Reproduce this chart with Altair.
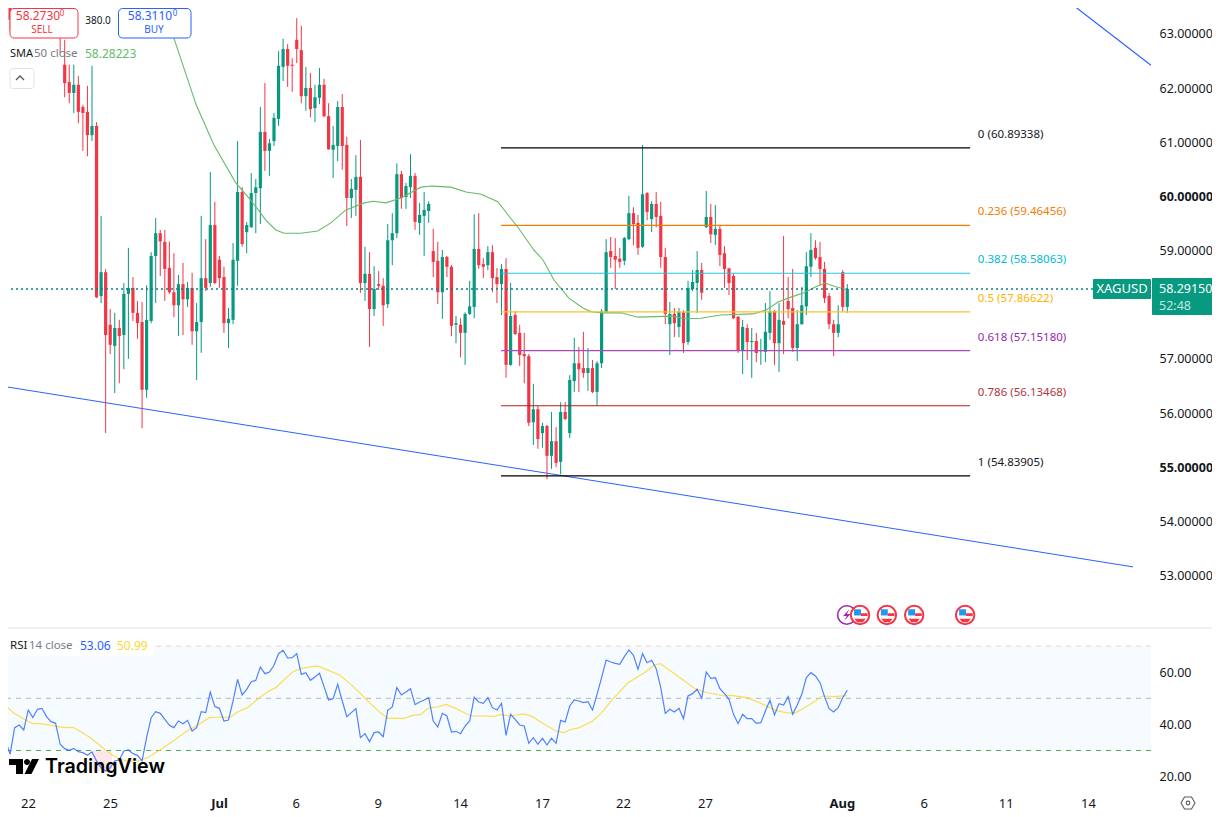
import altair as alt
import pandas as pd

FONT = "Noto Sans"
UP, DOWN = "#089981", "#F23645"

# --- candles (bar index 0..184) ---
direction = ("rgrgrrgrrgrr" "rrgrrrgrgr" "rgrggrrrgg" "grrrrgrgrg" "grgrrrgggr" "ggggrggggr"
             "rrrgrggrrg" "grrggrgrgr" "rgggrggrgg" "grrgrrgrgg" "grrgrrgrgr" "rrrgrgrgrg"
             "rggrrgrggg" "rrrggrrgrg" "rrrgrgrggg" "rgrgrrrrrg" "rgrgggrgrr" "rggggrrrrr" "grg")
highs = [63.72,63.70,63.44,63.40,63.40,63.35,63.30,63.35,63.30,63.30,63.25,63.10,
62.89,62.43,62.43,62.22,61.69,62.04,62.41,61.37,59.64,58.66,
57.92,57.85,57.72,58.40,59.05,58.51,58.07,58.05,58.36,58.97,
59.60,59.38,59.38,59.17,58.95,58.55,58.77,58.42,58.59,58.03,
59.64,59.21,60.45,59.90,58.90,58.70,57.94,59.14,61.02,60.17,
59.53,60.43,60.32,61.65,62.09,61.06,61.54,62.68,62.91,62.81,
62.55,63.29,63.15,62.39,62.28,62.06,62.37,62.17,61.72,61.30,
61.76,61.89,61.10,60.32,60.76,61.04,59.07,58.97,58.71,58.62,
58.49,59.49,59.69,60.61,60.47,60.25,60.78,60.43,59.88,60.08,
59.91,59.40,59.16,59.01,58.90,58.73,57.79,57.75,57.86,58.44,
59.67,59.69,58.86,59.08,59.10,58.68,58.75,58.86,58.40,57.88,
57.63,57.48,57.09,56.54,56.13,55.82,55.78,56.02,55.74,56.20,
56.20,56.70,57.39,57.22,57.50,57.20,56.98,56.96,57.92,59.21,
59.25,59.23,59.05,59.25,60.01,59.80,59.66,60.95,60.08,59.91,
60.08,59.90,59.05,58.05,57.94,57.94,57.90,58.44,58.64,58.99,
58.77,60.10,59.86,59.84,59.45,59.08,58.68,58.57,57.79,57.72,
57.64,57.57,57.48,57.37,58.03,58.25,57.90,58.03,59.27,58.51,
58.66,57.90,58.33,58.97,59.32,59.19,59.16,58.79,58.22,57.72,
57.99,58.64,58.38]
tops = [63.59,63.53,63.35,63.33,63.30,63.25,63.20,63.25,63.18,63.20,63.15,63.07,
62.43,62.11,62.06,62.06,61.65,61.56,61.30,61.30,58.60,58.60,
57.63,57.57,57.57,58.20,58.31,58.31,57.85,57.68,57.72,58.90,
59.32,59.32,59.16,58.68,58.23,58.38,58.38,58.31,58.31,57.68,
58.49,58.49,59.47,59.47,58.83,58.51,57.74,58.83,60.08,60.08,
59.47,60.06,60.17,61.19,61.19,60.98,61.45,62.41,62.72,62.72,
62.43,62.89,62.70,62.00,62.00,61.83,62.06,62.06,61.48,60.95,
61.65,61.65,60.95,60.14,60.36,60.36,58.57,58.57,58.29,58.38,
58.35,59.19,59.32,60.41,60.41,60.19,60.38,60.38,59.66,59.75,
59.86,58.99,58.81,58.88,58.88,58.70,57.66,57.63,57.83,57.97,
59.03,59.03,58.75,58.97,58.97,58.51,58.66,58.66,57.79,57.81,
57.48,57.09,57.05,56.07,56.07,55.76,55.76,55.48,55.48,56.02,
56.02,56.61,56.92,56.92,56.83,56.83,56.83,56.92,57.88,58.97,
58.99,58.90,58.85,59.23,59.69,59.69,59.51,60.04,60.06,59.86,
59.86,59.64,58.88,57.83,57.83,57.86,57.86,58.31,58.42,58.64,
58.64,59.62,59.62,59.40,59.40,58.95,58.67,58.53,57.78,57.59,
57.57,57.33,57.33,57.16,57.50,57.88,57.88,57.72,57.70,58.07,
57.94,57.64,57.99,58.71,59.01,59.05,58.88,58.66,58.16,57.64,
57.64,58.60,58.29]
bottoms = [63.26,63.16,63.16,63.18,63.18,63.10,63.08,63.12,63.08,63.05,63.02,62.96,
62.09,61.91,61.91,61.56,61.54,61.13,61.13,58.14,58.16,57.44,
57.26,57.24,57.42,57.44,58.20,57.85,57.66,56.43,56.43,57.70,
58.90,59.17,58.66,58.23,57.99,57.99,58.10,58.10,57.51,57.51,
57.68,58.31,58.40,58.40,58.49,57.66,57.66,57.72,58.81,59.12,
59.34,59.43,60.06,60.15,60.84,60.84,61.02,61.43,62.39,62.41,
62.41,62.72,61.85,61.85,61.61,61.63,61.82,61.48,60.87,60.86,
60.93,60.93,59.97,59.97,60.12,58.40,58.40,57.92,57.92,58.35,
57.99,58.01,59.19,59.32,59.97,59.99,60.17,59.53,59.51,59.64,
59.73,58.79,58.23,58.23,58.70,57.61,57.63,57.48,57.48,57.83,
57.96,58.73,58.70,58.73,58.49,58.38,58.38,56.89,56.89,57.46,
57.07,57.05,55.82,55.83,55.52,55.63,55.21,55.21,55.08,55.10,
55.89,55.63,56.59,56.81,56.74,56.74,56.39,56.39,56.92,57.86,
58.88,58.83,58.79,58.81,59.21,59.49,59.05,59.07,59.71,59.58,
59.62,58.88,57.83,57.64,57.66,57.59,57.29,57.31,58.29,58.40,
58.22,59.43,59.30,59.29,58.92,58.66,58.40,57.75,57.16,57.16,
57.31,57.31,57.11,57.14,57.13,57.48,57.29,57.29,57.63,57.92,
57.20,57.20,57.64,57.97,58.70,58.86,58.66,58.12,57.64,57.48,
57.48,57.96,57.96]
lows = [63.07,63.07,63.03,63.03,63.05,63.02,63.00,63.00,62.98,62.95,62.93,62.65,
61.83,61.72,61.54,61.35,60.84,60.74,61.02,58.12,58.03,55.63,
57.09,56.37,56.55,56.81,57.00,57.70,57.37,55.72,56.28,57.66,
58.03,58.53,58.07,58.20,57.77,57.42,57.44,57.96,57.26,56.61,
57.11,58.25,58.33,58.38,58.31,57.48,57.20,57.64,58.35,59.07,
58.95,59.42,59.32,59.49,60.47,60.38,60.93,61.30,62.13,62.02,
61.93,62.46,61.72,61.58,61.46,61.37,61.70,61.46,60.86,60.34,
60.65,60.49,59.45,59.60,59.64,58.22,58.07,57.22,57.79,58.27,
57.61,57.94,58.73,59.23,59.77,59.77,59.97,59.38,59.29,58.90,
59.51,58.51,58.01,57.74,58.51,57.42,57.29,57.03,56.89,57.81,
57.75,58.66,58.49,58.64,58.23,58.03,57.81,56.65,56.87,57.44,
56.87,56.55,55.76,55.41,55.34,55.36,54.78,54.97,55.00,54.87,
55.87,55.54,56.39,56.39,56.65,56.41,56.37,56.13,56.83,57.85,
58.68,58.29,58.68,58.73,59.19,59.10,58.92,59.05,59.56,59.34,
59.43,58.68,57.64,57.07,57.40,57.40,57.11,57.26,58.25,57.85,
58.09,59.42,59.14,59.10,58.71,58.31,58.18,57.74,57.11,56.72,
56.98,56.65,56.94,56.89,56.94,57.35,56.89,56.76,57.09,57.75,
57.13,56.96,57.63,57.81,58.51,58.83,58.36,58.03,57.55,57.05,
57.40,57.88,57.85]

# --- SMA 50 (bar index, price) ---
sma_idx = [33.2,36.0,40.9,44.8,49.6,52.9,56.2,58.4,60.2,63.9,67.6,70.5,73.8,77.8,79.8,82.6,85.9,90.3,92.7,96.9,
           100.2,103.5,107.2,109.4,111.6,115.1,117.1,119.5,122.8,125.9,127.7,129.9,134.3,138.0,145.3,148.6,151.8,
           156.2,163.3,166.1,168.8,171.6,174.5,177.1,179.1,181.5,183.9]
sma_val = [63.63,62.92,61.69,60.95,60.25,59.93,59.56,59.38,59.32,59.32,59.36,59.51,59.75,59.88,59.91,59.88,59.97,60.17,60.19,60.17,
           60.08,60.04,59.90,59.66,59.43,59.01,58.83,58.46,58.12,57.94,57.87,57.85,57.85,57.77,57.79,57.74,57.75,
           57.81,57.83,57.90,58.05,58.14,58.22,58.33,58.40,58.33,58.28]

# --- RSI (bar index -2..184) ---
rsi_first = -2
rsi = [35.56,33.64,28.5,38.75,39.77,37.86,45.52,42.58,45.78,46.16,42.97,41.05,40.41,32.37,30.71,30.07,30.83,29.56,29.17,28.15,29.43,
       26.0,23.4,22.15,23.4,26.0,26.4,29.8,30.2,28.8,28.15,25.98,34.92,42.58,44.88,44.24,41.94,39.65,38.75,41.3,40.28,41.56,37.47,
       38.75,44.88,44.5,52.4,46.8,46.16,41.3,41.69,48.97,57.27,51.27,53.44,56.37,56.88,62.0,59.44,60.08,62.63,67.1,68.38,65.44,65.57,
       67.1,59.18,59.82,56.88,58.16,59.57,54.46,49.35,49.86,55.35,48.97,42.97,44.5,46.03,34.92,36.45,33.39,36.84,37.09,35.3,45.39,
       46.67,54.08,51.27,52.4,53.69,47.56,48.58,49.35,50.24,41.3,39.01,44.24,43.22,37.09,37.35,36.45,39.39,41.3,50.37,48.58,48.07,
       50.24,46.41,45.52,48.07,35.81,43.86,41.94,39.77,39.39,32.75,34.92,32.37,34.67,32.11,34.67,32.75,41.56,40.92,47.05,49.35,48.97,
       48.33,48.71,45.52,51.52,57.91,64.67,63.91,63.4,63.01,65.95,68.51,66.46,61.1,67.1,63.65,64.55,61.35,54.08,44.24,45.78,44.75,
       46.16,42.2,50.88,51.78,53.44,49.99,60.08,57.65,57.91,53.69,51.78,49.61,43.86,40.28,43.86,42.2,42.2,40.41,40.67,45.14,49.22,
       43.6,47.95,47.44,50.63,43.86,47.44,51.52,57.91,59.82,58.54,55.99,50.63,46.03,44.75,46.41,50.24,53.06]
ma_idx = [-2.0,-0.9,0.9,3.1,5.0,6.8,9.0,11.9,13.8,15.6,17.4,19.2,21.4,23.6,25.5,28.0,30.2,33.2,36.1,38.3,41.2,43.8,46.4,48.2,50.0,
          52.2,54.8,56.6,58.4,60.3,62.1,63.9,67.6,69.4,72.4,74.9,76.8,78.6,81.5,83.0,85.2,86.6,88.5,90.3,91.8,92.5,94.0,95.8,97.6,
          99.5,101.3,104.2,106.4,107.9,109.7,113.0,114.8,117.4,120.0,121.8,122.9,125.1,128.0,129.9,132.4,135.7,139.4,141.6,142.9,
          145.2,148.2,150.4,152.6,154.8,157.0,158.4,162.1,165.0,168.3,170.5,172.4,175.3,178.6,181.1,183.9]
ma_val = [49.99,47.05,44.24,41.94,40.28,40.28,39.65,38.75,38.88,37.22,35.18,32.75,29.56,27.0,25.98,25.98,27.26,30.45,33.9,36.84,39.65,
          42.58,42.84,42.58,44.75,46.41,50.24,52.54,54.08,57.27,60.08,61.48,62.38,61.1,58.93,55.35,52.16,48.97,44.24,42.33,42.33,42.33,
          43.48,43.86,46.03,46.41,46.67,47.69,46.41,44.75,43.22,43.22,43.09,43.86,43.22,43.99,42.97,40.03,37.47,36.84,37.86,38.75,41.3,
          44.24,49.61,55.74,59.82,62.76,63.27,60.46,56.63,53.82,52.42,51.65,50.88,51.14,50.24,48.07,45.39,44.5,44.24,47.05,50.88,50.63,50.99]

# --- Fibonacci ---
fib_ratio = ["0", "0.236", "0.382", "0.5", "0.618", "0.786", "1"]
fib_level = [60.89338, 59.46456, 58.58063, 57.86622, 57.15180, 56.13468, 54.83905]
fib_color = ["#000000", "#F57C00", "#26C6DA", "#FBC02D", "#AB47BC", "#B71C1C", "#000000"]
fib_text_color = ["#131722", "#F57C00", "#00BCD4", "#FFB300", "#9C27B0", "#B2353F", "#131722"]
fib_from, fib_to, fib_label_at = 107.9, 211.0, 212.7

# --- trend lines ---
trend_a_idx, trend_a_val = [-2, 246.8], [56.50, 53.16]
trend_b_idx, trend_b_val = [232.07, 250.75], [63.63, 62.42]
last_price = 58.2915

# --- time axis ---
tick_idx = [3.93, 21.96, 45.9, 62.8, 80.8, 98.9, 116.9, 134.7, 152.7, 182.8, 200.8, 218.8, 236.9]
tick_lab = ["22", "25", "Jul", "6", "9", "14", "17", "22", "27", "Aug", "6", "11", "14"]
price_ticks = [53, 54, 55, 56, 57, 59, 60, 61, 62, 63]
rsi_ticks = [20, 40, 60]
flag_idx = [186.8, 192.7, 198.7, 209.9]
news_idx = [183.9]

xs = alt.Scale(domain=[-2.0, 250.75], nice=False, zero=False, padding=0)
ys = alt.Scale(domain=[52.032, 63.625], nice=False, zero=False)
rs = alt.Scale(domain=[14.48, 76.55], nice=False, zero=False)

price_y_axis = alt.Axis(orient="right", values=price_ticks, format=".5f", grid=False, domain=False, ticks=False,
                        labelPadding=8, labelFontSize=12.5, labelFont=FONT, labelColor="#131722", title=None,
                        labelFontWeight={"condition": {"test": "datum.value==60||datum.value==55", "value": "bold"}, "value": "normal"})
rsi_y_axis = alt.Axis(orient="right", values=rsi_ticks, format=".2f", grid=False, domain=False, ticks=False,
                      labelPadding=8, labelFontSize=12.5, labelFont=FONT, labelColor="#131722", title=None)
lookup = "{" + ",".join(f"'{i}':'{l}'" for i, l in zip(tick_idx, tick_lab)) + "}"
time_axis = alt.Axis(orient="bottom", values=tick_idx, grid=False, domain=False, ticks=False, title=None,
                     labelExpr=f"{lookup}[datum.value]", labelPadding=6, labelFontSize=13, labelFont=FONT, labelColor="#131722",
                     labelOverlap=False, labelFlush=False,
                     labelFontWeight={"condition": {"test": "datum.value==45.9||datum.value==182.8", "value": "bold"}, "value": "normal"})

X = lambda f: alt.X(f, type="quantitative", scale=xs, axis=None)
XT = lambda f: alt.X(f, type="quantitative", scale=xs, axis=time_axis)
Y = lambda f: alt.Y(f, type="quantitative", scale=ys, axis=price_y_axis)
R = lambda f: alt.Y(f, type="quantitative", scale=rs, axis=rsi_y_axis)
one = pd.DataFrame({"a": [0]})


def label(text, x, y, color="#131722", size=12, weight="normal", align="left", font=FONT):
    return alt.Chart(one).mark_text(text=text, color=color, fontSize=size, fontWeight=weight, align=align,
                                    baseline="middle", font=font).encode(x=alt.value(x), y=alt.value(y))


def box(x, x2, y, y2, fill="#FFFFFF", stroke=None, radius=0, opacity=1):
    kw = {"stroke": stroke, "strokeWidth": 1} if stroke else {}
    return alt.Chart(one).mark_rect(fill=fill, cornerRadius=radius, opacity=opacity, **kw).encode(
        x=alt.value(x), x2=alt.value(x2), y=alt.value(y), y2=alt.value(y2))


bars = pd.DataFrame({"i": range(len(highs)), "h": highs, "t": tops, "b": bottoms, "l": lows, "d": list(direction)})
color = alt.Color("d:N", scale=alt.Scale(domain=["g", "r"], range=[UP, DOWN]), legend=None)
wicks = alt.Chart(bars).mark_rule(strokeWidth=1, clip=True).encode(x=X("i"), y=Y("l"), y2="h", color=color)
bodies = alt.Chart(bars).mark_bar(size=3.2, clip=True).encode(x=X("i"), y=Y("b"), y2="t", color=color)

sma = alt.Chart(pd.DataFrame({"i": sma_idx, "v": sma_val})).mark_line(color="#66BB6A", strokeWidth=1.1, clip=True).encode(x=X("i"), y=Y("v"))
trend_a = alt.Chart(pd.DataFrame({"i": trend_a_idx, "v": trend_a_val})).mark_line(color="#2962FF", strokeWidth=1, clip=True).encode(x=X("i"), y=Y("v"))
trend_b = alt.Chart(pd.DataFrame({"i": trend_b_idx, "v": trend_b_val})).mark_line(color="#2962FF", strokeWidth=1.2, clip=True).encode(x=X("i"), y=Y("v"))
fib = pd.DataFrame({"r": fib_ratio, "v": fib_level, "c": fib_color, "tc": fib_text_color,
                    "a": fib_from, "z": fib_to, "t": fib_label_at})
fib["txt"] = [f"{r} ({v:.5f})" for r, v in zip(fib_ratio, fib_level)]
fib_lines = alt.Chart(fib).mark_rule(strokeWidth=1.2).encode(x=X("a"), x2="z", y=Y("v"), color=alt.Color("c:N", scale=None))
fib_text = alt.Chart(fib).mark_text(align="left", baseline="middle", dy=-13, fontSize=11.5, font=FONT).encode(
    x=X("t"), y=Y("v"), text="txt:N", color=alt.Color("tc:N", scale=None))
dotted = alt.Chart(pd.DataFrame({"i": [-2, 238.0], "v": [last_price, last_price]})).mark_line(
    color="#0B7F86", strokeWidth=1.5, strokeDash=[2, 3], clip=True).encode(x=X("i"), y=Y("v"))

TICON = 'M-0.65,-0.62L0.1,-0.62L0.1,0.05L-0.65,0.05Z'
STRIPES = 'M0.1,-0.2H0.82V0.12H0.1ZM-0.62,0.42H0.62L0.3,0.78H-0.3Z'
flag_df = pd.DataFrame({"i": flag_idx})
ring = alt.Chart(flag_df).mark_point(shape="circle", size=340, fill="#FFFFFF", fillOpacity=1, stroke="#F23645", strokeWidth=2).encode(x=X("i"), y=alt.value(615))
canton = alt.Chart(flag_df).mark_point(shape=TICON, size=340, fill="#2196F3", fillOpacity=1, strokeWidth=0).encode(x=X("i"), y=alt.value(615))
stripes = alt.Chart(flag_df).mark_point(shape=STRIPES, size=340, fill="#F23645", fillOpacity=1, strokeWidth=0).encode(x=X("i"), y=alt.value(615))
news_df = pd.DataFrame({"i": news_idx})
news = alt.Chart(news_df).mark_point(shape="circle", size=340, fill="#FFFFFF", fillOpacity=1, stroke="#9C27B0", strokeWidth=1.6).encode(x=X("i"), y=alt.value(615))
bolt = alt.Chart(news_df).mark_point(shape="M0.3,-0.65L-0.4,0.1H0L-0.3,0.65L0.4,-0.1H0Z", size=340, fill="#9C27B0", fillOpacity=1, strokeWidth=0).encode(x=X("i"), y=alt.value(615))

price_panel = alt.layer(
    trend_a, trend_b, wicks, bodies, sma, fib_lines, fib_text, dotted,
    news, bolt, ring, canton, stripes,
    # order ticket
    box(9, 77, 8.5, 38, stroke="#F23645", radius=4),
    label("58.2730", 37, 15.5, "#F23645", 12, align="center"),
    label("0", 61, 14, "#F23645", 8, align="center"),
    label("SELL", 41, 30, "#F23645", 10, align="center"),
    label("380.0", 97, 21, "#131722", 10, align="center"),
    box(117.5, 190, 8.5, 38, stroke="#2962FF", radius=4),
    label("58.3110", 149, 15.5, "#2962FF", 12, align="center"),
    label("0", 174, 14, "#2962FF", 8, align="center"),
    label("BUY", 153, 30, "#2962FF", 10, align="center"),
    # legend
    label("SMA", 9, 54, "#131722", 11),
    label("50 close", 33, 54, "#787B86", 11.5),
    label("58.28223", 84, 54, "#66BB6A", 12),
    box(9, 33, 68.5, 88.5, stroke="#E0E3EB", radius=3),
    alt.Chart(one).mark_point(shape="M-1,0.5L0,-0.5L1,0.5", size=64, filled=False, stroke="#131722", strokeWidth=1.4).encode(
        x=alt.value(19), y=alt.value(78)),
    # last price tags
    box(1092, 1150, 279, 299, fill="#089981", radius=1),
    label("XAGUSD", 1121, 289, "#FFFFFF", 13, align="center"),
    box(1151, 1220, 278, 315, fill="#089981", radius=1),
    label("58.29150", 1158, 289, "#FFFFFF", 12.5),
    label("52:48", 1158, 306, "#C4E6DF", 12.5),
    # pane separator
    alt.Chart(one).mark_rule(color="#E0E3EB", strokeWidth=1).encode(x=alt.value(0), x2=alt.value(1220), y=alt.value(628)),
).properties(width=1150, height=628)

# --- RSI panel ---
band = alt.Chart(pd.DataFrame({"a": [30], "b": [70]})).mark_rect(fill="#F5FBFF").encode(y=R("a"), y2="b")
guides = pd.DataFrame({"v": [70, 50, 30], "c": ["#F9CDD0", "#B2B5BE", "#4CAF50"]})
guide = alt.Chart(guides).mark_rule(strokeDash=[5, 5], strokeWidth=1).encode(
    y=R("v"), color=alt.Color("c:N", scale=None))
under = alt.Chart(pd.DataFrame({"a": [18.2], "z": [22.4], "l": [22.2], "u": [30]})).mark_rect(fill="#FDE7E9").encode(
    x=XT("a"), x2="z", y=R("l"), y2="u")
rsi_line = alt.Chart(pd.DataFrame({"i": [rsi_first + k for k in range(len(rsi))], "v": rsi})).mark_line(
    color="#2962FF", strokeWidth=1.2, opacity=0.8, clip=True).encode(x=XT("i"), y=R("v"))
ma_line = alt.Chart(pd.DataFrame({"i": ma_idx, "v": ma_val})).mark_line(
    color="#FDD835", strokeWidth=1.2, opacity=0.85, clip=True).encode(x=XT("i"), y=R("v"))

LOGO_T = "M-1,-0.5L-0.067,-0.5L-0.067,0.5L-0.533,0.5L-0.533,-0.1L-1,-0.1Z"
LOGO_D = "M0,-0.3A0.2,0.2 0 1 1 0.4,-0.3A0.2,0.2 0 1 1 0,-0.3Z"
LOGO_S = "M0.533,-0.5L1,-0.5L0.5,0.5L0.033,0.5Z"
logo = [alt.Chart(one).mark_point(shape=s, size=900, fill="#000000", fillOpacity=1, strokeWidth=0).encode(
    x=alt.value(23), y=alt.value(137.5)) for s in (LOGO_T, LOGO_D, LOGO_S)]

rsi_panel = alt.layer(
    band, under, guide, ma_line, rsi_line,
    box(0, 153, 9, 27, fill="#FFFFFF", opacity=0.85),
    label("RSI", 9, 17, "#131722", 11.5),
    label("14 close", 28, 17, "#787B86", 11.5),
    label("53.06", 79, 17, "#2962FF", 12),
    label("50.99", 116, 17, "#FDD835", 12),
    *logo,
    label("TradingView", 44, 138, "#000000", 19.7, 600, font="Inter"),
    alt.Chart(one).mark_point(shape="M-0.5,-0.866L0.5,-0.866L1,0L0.5,0.866L-0.5,0.866L-1,0Z", size=196, filled=False,
                              stroke="#131722", strokeWidth=1.1).encode(x=alt.value(1187), y=alt.value(174)),
    alt.Chart(one).mark_point(shape="circle", size=14, filled=False, stroke="#131722", strokeWidth=1.1).encode(
        x=alt.value(1187), y=alt.value(174)),
).properties(width=1150, height=162)

chart = alt.vconcat(price_panel, rsi_panel, spacing=0, padding={"left": -8, "top": -8, "right": -10, "bottom": 0},
                    background="#FFFFFF").resolve_scale(x="independent", y="independent", color="independent").configure_view(strokeWidth=0)

chart.save("out.html", embed_options={"renderer": "svg", "actions": False})
